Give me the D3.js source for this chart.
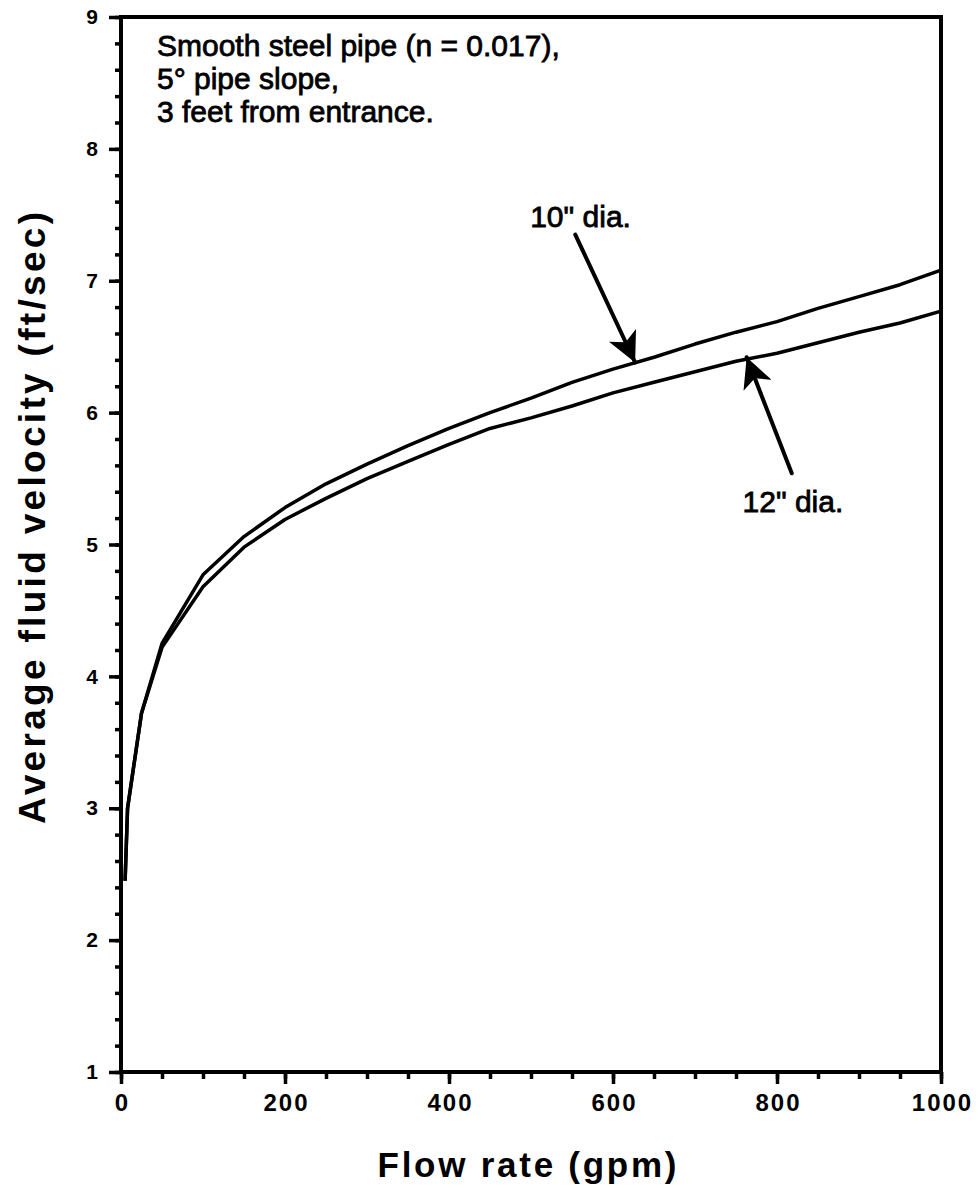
<!DOCTYPE html>
<html>
<head>
<meta charset="utf-8">
<script src="https://cdn.jsdelivr.net/npm/d3@7"></script>
<style>
  body { margin: 0; background: #fff; }
  text { font-family: "Liberation Sans", Arial, sans-serif; fill: #000; }
</style>
</head>
<body>
<div id="chart-area"></div>
<script>
// SVG Size
let width = 980,
	height = 1188;

// flow rate (gpm) and average velocity (ft/sec)
const flowRate = [5, 8, 25, 50, 100, 150, 200, 250, 300, 350, 400, 450, 500, 550, 600, 650, 700, 750, 800, 850, 900, 950, 1000];
const vel10 = [2.45, 3.0, 3.72, 4.25, 4.77, 5.06, 5.28, 5.46, 5.61, 5.75, 5.88, 6.0, 6.11, 6.23, 6.33, 6.42, 6.52, 6.61, 6.69, 6.79, 6.88, 6.97, 7.08];
const vel12 = [2.45, 3.0, 3.72, 4.22, 4.68, 4.98, 5.19, 5.35, 5.50, 5.63, 5.76, 5.88, 5.96, 6.05, 6.15, 6.23, 6.31, 6.39, 6.45, 6.53, 6.61, 6.68, 6.77];

const xTicks = [0, 200, 400, 600, 800, 1000];
const xMinor = d3.range(0, 1001, 50);
const yTicks = [1, 2, 3, 4, 5, 6, 7, 8, 9];
const yMinor = d3.range(1, 9.01, 0.2);

const noteLines = ["Smooth steel pipe (n = 0.017),", "5\u00B0 pipe slope,", "3 feet from entrance."];

// labels: text, label position, arrow start, arrow tip (data units)
const labels = [
	{ text: "10\" dia.", lx: 499, ly: 7.41, from: [554, 7.35], to: [627, 6.38] },
	{ text: "12\" dia.", lx: 758, ly: 5.25, from: [818, 5.54], to: [763, 6.42] }
];

let margin = { left: 121, right: 39, top: 17, bottom: 116 };

let xScale = d3.scaleLinear()
			.domain([0, 1000])
			.range([margin.left, width - margin.right]);

let yScale = d3.scaleLinear()
			.domain([1, 9])
			.range([height - margin.bottom, margin.top]);

let svg = d3.select("#chart-area")
			.append("svg")
			.attr("width", width)
			.attr("height", height);

svg.append("rect").attr("width", width).attr("height", height).attr("fill", "#fff");

let defs = svg.append("defs");
defs.append("marker")
	.attr("id", "head")
	.attr("viewBox", "0 0 10 10")
	.attr("refX", 10).attr("refY", 5)
	.attr("markerWidth", 7.5).attr("markerHeight", 7.5)
	.attr("markerUnits", "strokeWidth")
	.attr("orient", "auto")
	.append("path")
	.attr("d", "M0,0 L10,5 L0,10 L2.5,5 Z")
	.attr("fill", "#000");

// minor ticks
svg.append("g")
	.attr("class", "axis y-minor")
	.attr("transform", "translate(" + margin.left + ",0)")
	.call(d3.axisLeft(yScale).tickValues(yMinor).tickSize(6).tickFormat(""));

svg.append("g")
	.attr("class", "axis x-minor")
	.attr("transform", "translate(0," + (height - margin.bottom) + ")")
	.call(d3.axisBottom(xScale).tickValues(xMinor).tickSize(7).tickFormat(""));

// major ticks + labels
let yAxis = svg.append("g")
	.attr("class", "axis y-axis")
	.attr("transform", "translate(" + margin.left + ",0)")
	.call(d3.axisLeft(yScale).tickValues(yTicks).tickSize(12).tickPadding(11).tickFormat(d3.format("d")));

yAxis.selectAll("text")
	.attr("font-size", 21)
	.attr("font-weight", "bold")
	.attr("font-family", "Liberation Sans, Arial, sans-serif");

let xAxis = svg.append("g")
	.attr("class", "axis x-axis")
	.attr("transform", "translate(0," + (height - margin.bottom) + ")")
	.call(d3.axisBottom(xScale).tickValues(xTicks).tickSize(12).tickPadding(10).tickFormat(d3.format("d")));

xAxis.selectAll("text")
	.attr("font-size", 24)
	.attr("font-weight", "bold")
	.attr("letter-spacing", 2)
	.attr("font-family", "Liberation Sans, Arial, sans-serif")
	.attr("dx", 1);

svg.selectAll(".axis .domain").remove();
svg.selectAll(".axis line").attr("stroke", "#000").attr("stroke-width", 3.5);

// frame
svg.append("rect")
	.attr("x", xScale(0)).attr("y", yScale(9))
	.attr("width", xScale(1000) - xScale(0))
	.attr("height", yScale(1) - yScale(9))
	.attr("fill", "none")
	.attr("stroke", "#000")
	.attr("stroke-width", 4);

// curves
let line = d3.line()
	.x((d) => xScale(d[0]))
	.y((d) => yScale(d[1]));

[vel10, vel12].forEach((vals) => {
	svg.append("path")
		.datum(flowRate.map((f, i) => [f, vals[i]]))
		.attr("d", line)
		.attr("fill", "none")
		.attr("stroke", "#000")
		.attr("stroke-width", 3.5)
		.attr("stroke-linejoin", "round");
});

// note block
let note = svg.append("text")
	.attr("x", 157)
	.attr("y", 56)
	.attr("font-size", 30)
	.attr("stroke", "#000")
	.attr("stroke-width", 0.8);

note.selectAll("tspan")
	.data(noteLines)
	.enter()
	.append("tspan")
	.attr("x", 157)
	.attr("dy", (d, i) => i == 0 ? 0 : 33)
	.text((d) => d);

// diameter labels + arrows
labels.forEach((l) => {
	svg.append("text")
		.attr("x", xScale(l.lx))
		.attr("y", yScale(l.ly))
		.attr("font-size", 30)
		.attr("stroke", "#000")
		.attr("stroke-width", 0.8)
		.text(l.text);

	svg.append("line")
		.attr("x1", xScale(l.from[0])).attr("y1", yScale(l.from[1]))
		.attr("x2", xScale(l.to[0])).attr("y2", yScale(l.to[1]))
		.attr("stroke", "#000")
		.attr("stroke-width", 4)
		.attr("stroke-linecap", "round")
		.attr("marker-end", "url(#head)");
});

// axis titles
svg.append("text")
	.attr("x", 527)
	.attr("y", 1177)
	.attr("text-anchor", "middle")
	.attr("font-size", 35)
	.attr("font-weight", "bold")
	.attr("textLength", 299)
	.attr("lengthAdjust", "spacing")
	.text("Flow rate (gpm)");

svg.append("text")
	.attr("transform", "translate(45,518) rotate(-90)")
	.attr("text-anchor", "middle")
	.attr("font-size", 37)
	.attr("font-weight", "bold")
	.attr("textLength", 612)
	.attr("lengthAdjust", "spacing")
	.text("Average fluid velocity (ft/sec)");
</script>
</body>
</html>
